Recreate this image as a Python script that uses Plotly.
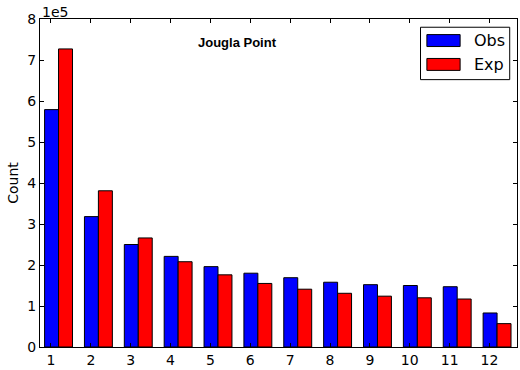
import plotly.graph_objects as go

categories = [1, 2, 3, 4, 5, 6, 7, 8, 9, 10, 11, 12]
obs = [579000, 318000, 250000, 221000, 196000, 180000, 169000, 158000, 152000, 150000, 147000, 83000]
exp = [727000, 381000, 266000, 208000, 176000, 155000, 141000, 131000, 124000, 120000, 117000, 57000]
ytick_vals = [0, 100000, 200000, 300000, 400000, 500000, 600000, 700000, 800000]
ytick_text = ["0", "1", "2", "3", "4", "5", "6", "7", "8"]

W, H = 520, 370
L, R, T, B = 40, 2, 19, 21
pw, ph = W - L - R, H - T - B

def px(x):
    return (x - L) / pw

def py(y):
    return (H - B - y) / ph

fig = go.Figure()
fig.add_trace(go.Bar(x=categories, y=obs, name="Obs", width=0.35, offset=-0.16,
                     marker=dict(color="#0000ff", line=dict(color="black", width=1)),
                     showlegend=False))
fig.add_trace(go.Bar(x=categories, y=exp, name="Exp", width=0.35, offset=0.19,
                     marker=dict(color="#ff0000", line=dict(color="black", width=1)),
                     showlegend=False))

tickfont = dict(family="DejaVu Sans", size=14, color="black")
fig.update_xaxes(range=[0.725, 12.69], tickvals=categories, ticks="inside", ticklen=4,
                 showline=True, linecolor="black", linewidth=1, mirror="ticks",
                 showgrid=False, zeroline=False, tickfont=tickfont, tickcolor="black")
fig.update_yaxes(range=[0, 800000], tickvals=ytick_vals, ticktext=ytick_text, ticks="inside",
                 ticklen=4, showline=True, linecolor="black", linewidth=1, mirror="ticks",
                 showgrid=False, zeroline=False, tickfont=tickfont, tickcolor="black",
                 title=dict(text="Count", font=dict(family="DejaVu Sans", size=14, color="black"), standoff=5))

shapes = [
    dict(type="rect", xref="paper", yref="paper", x0=px(421.3), x1=px(510.7), y0=py(80), y1=py(27.3),
         line=dict(color="black", width=1), fillcolor="white"),
    dict(type="rect", xref="paper", yref="paper", x0=px(427.7), x1=px(461), y0=py(46.7), y1=py(34.7),
         line=dict(color="black", width=1), fillcolor="#0000ff"),
    dict(type="rect", xref="paper", yref="paper", x0=px(427.7), x1=px(461), y0=py(70.7), y1=py(58.7),
         line=dict(color="black", width=1), fillcolor="#ff0000"),
]
annotations = [
    dict(text="<b>Jougla Point</b>", xref="paper", yref="paper", x=px(238), y=py(42.7),
         showarrow=False, font=dict(family="Liberation Sans", size=13, color="black"),
         xanchor="center", yanchor="middle"),
    dict(text="Obs", xref="paper", yref="paper", x=px(473), y=py(41), showarrow=False,
         font=dict(family="DejaVu Sans", size=16, color="black"), xanchor="left", yanchor="middle"),
    dict(text="Exp", xref="paper", yref="paper", x=px(473), y=py(64.5), showarrow=False,
         font=dict(family="DejaVu Sans", size=16, color="black"), xanchor="left", yanchor="middle"),
    dict(text="1e5", xref="paper", yref="paper", x=px(40), y=py(12), showarrow=False,
         font=dict(family="DejaVu Sans", size=14, color="black"), xanchor="left", yanchor="middle"),
]

fig.update_layout(width=W, height=H, margin=dict(l=L, r=R, t=T, b=B),
                  paper_bgcolor="white", plot_bgcolor="white", barmode="overlay",
                  shapes=shapes, annotations=annotations)
fig.write_html("out.html")
